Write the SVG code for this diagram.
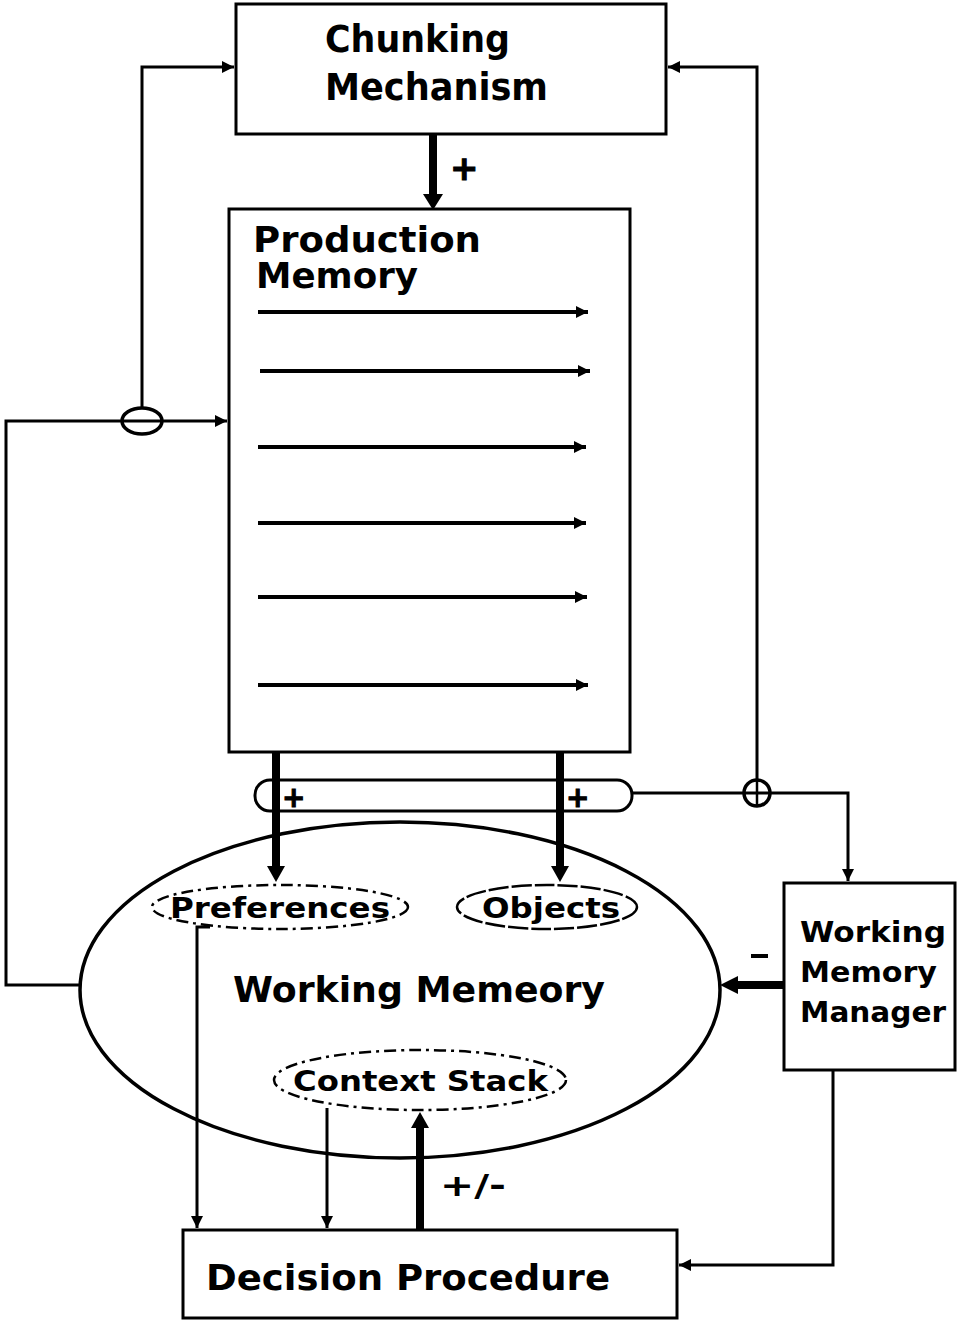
<svg xmlns="http://www.w3.org/2000/svg" width="958" height="1322" viewBox="0 0 958 1322">
<style>
.box{fill:#fff;stroke:#000;stroke-width:3}
.ln{fill:none;stroke:#000;stroke-width:3}
.thick{fill:none;stroke:#000;stroke-width:8}
.t{font-family:"DejaVu Sans","Liberation Sans",sans-serif;font-weight:bold;fill:#000}
.dash{fill:#fff;stroke:#000;stroke-width:2.5;stroke-dasharray:12 5 3 5}
</style>
<defs>
<marker id="as" viewBox="0 0 10 10" refX="10" refY="5" markerWidth="12" markerHeight="12" orient="auto" markerUnits="userSpaceOnUse"><path d="M0,0 L10,5 L0,10 z" fill="#000"/></marker>
</defs>
<rect width="958" height="1322" fill="#fff"/>

<g id="working-memory">
<ellipse cx="400" cy="990" rx="320" ry="168" fill="#fff" stroke="#000" stroke-width="3.5"/>
<text class="t" x="233" y="1002" font-size="36" textLength="372" lengthAdjust="spacingAndGlyphs">Working Memeory</text>
</g>

<g id="connectors">
<line class="thick" x1="433" y1="134" x2="433" y2="196"/>
<path d="M423,194 L443,194 L433,210 z"/>
<text class="t" x="450" y="180" font-size="34" stroke="#000" stroke-width="1">+</text>
<polyline class="ln" points="80,985 6,985 6,421 227,421" marker-end="url(#as)"/>
<polyline class="ln" points="142,408 142,67 234,67" marker-end="url(#as)"/>
<polyline class="ln" points="757,780 757,67 668,67" marker-end="url(#as)"/>
<polyline class="ln" points="632,793 848,793 848,881" marker-end="url(#as)"/>
<line class="thick" x1="276" y1="752" x2="276" y2="868"/>
<path d="M267,866 L285,866 L276,882 z"/>
<line class="thick" x1="560" y1="752" x2="560" y2="868"/>
<path d="M551,866 L569,866 L560,882 z"/>
<line class="thick" x1="784" y1="985" x2="735" y2="985"/>
<path d="M738,976 L738,994 L720,985 z"/>
<rect x="751" y="954" width="17" height="4" fill="#000"/>
<polyline class="ln" points="833,1070 833,1265 679,1265" marker-end="url(#as)"/>
<polyline class="ln" points="210,927 197,927 197,1228" marker-end="url(#as)"/>
<line class="ln" x1="327" y1="1108" x2="327" y2="1228" marker-end="url(#as)"/>
<line class="thick" x1="420" y1="1230" x2="420" y2="1126"/>
<path d="M411,1128 L429,1128 L420,1112 z"/>
<text class="t" x="440" y="1196" font-size="30" textLength="66" lengthAdjust="spacingAndGlyphs">+/-</text>
</g>

<g id="chunking-mechanism">
<rect class="box" x="236" y="4" width="430" height="130"/>
<text class="t" x="325" y="52" font-size="37" textLength="185" lengthAdjust="spacingAndGlyphs">Chunking</text>
<text class="t" x="325" y="100" font-size="37" textLength="223" lengthAdjust="spacingAndGlyphs">Mechanism</text>
</g>

<g id="production-memory">
<rect class="box" x="229" y="209" width="401" height="543"/>
<text class="t" x="253" y="252" font-size="35" textLength="228" lengthAdjust="spacingAndGlyphs">Production</text>
<text class="t" x="256" y="288" font-size="35" textLength="162" lengthAdjust="spacingAndGlyphs">Memory</text>
<g stroke="#000" stroke-width="4">
<line x1="258" y1="312" x2="588" y2="312" marker-end="url(#as)"/>
<line x1="260" y1="371" x2="590" y2="371" marker-end="url(#as)"/>
<line x1="258" y1="447" x2="586" y2="447" marker-end="url(#as)"/>
<line x1="258" y1="523" x2="586" y2="523" marker-end="url(#as)"/>
<line x1="258" y1="597" x2="587" y2="597" marker-end="url(#as)"/>
<line x1="258" y1="685" x2="588" y2="685" marker-end="url(#as)"/>
</g>
</g>

<g id="junction-left">
<ellipse cx="142" cy="421" rx="20" ry="13" fill="none" stroke="#000" stroke-width="3.5"/>
</g>
<g id="junction-right">
<circle cx="757" cy="793" r="13" fill="none" stroke="#000" stroke-width="3.5"/>
<line x1="757" y1="780" x2="757" y2="806" stroke="#000" stroke-width="2.5"/>
</g>

<g id="capsule">
<rect x="255" y="780" width="377" height="31" rx="15" ry="15" fill="none" stroke="#000" stroke-width="3"/>
<line class="thick" x1="276" y1="752" x2="276" y2="820"/>
<line class="thick" x1="560" y1="752" x2="560" y2="820"/>
<text class="t" x="282" y="807" font-size="28" stroke="#000" stroke-width="1">+</text>
<text class="t" x="566" y="807" font-size="28" stroke="#000" stroke-width="1">+</text>
</g>

<g id="preferences">
<ellipse class="dash" cx="280" cy="907" rx="128" ry="22"/>
<text class="t" x="170" y="918" font-size="29" textLength="220" lengthAdjust="spacingAndGlyphs">Preferences</text>
</g>
<g id="objects">
<ellipse cx="547" cy="907" rx="90" ry="22" fill="#fff" stroke="#000" stroke-width="2.5" stroke-dasharray="20 3"/>
<text class="t" x="482" y="918" font-size="29" textLength="138" lengthAdjust="spacingAndGlyphs">Objects</text>
</g>
<g id="context-stack">
<ellipse class="dash" cx="420" cy="1080" rx="146" ry="30"/>
<text class="t" x="293" y="1091" font-size="29" textLength="255" lengthAdjust="spacingAndGlyphs">Context Stack</text>
</g>

<g id="working-memory-manager">
<rect class="box" x="784" y="883" width="171" height="187"/>
<text class="t" x="800" y="942" font-size="29" textLength="146" lengthAdjust="spacingAndGlyphs">Working</text>
<text class="t" x="800" y="982" font-size="29" textLength="137" lengthAdjust="spacingAndGlyphs">Memory</text>
<text class="t" x="800" y="1022" font-size="29" textLength="146" lengthAdjust="spacingAndGlyphs">Manager</text>
</g>

<g id="decision-procedure">
<rect class="box" x="183" y="1230" width="494" height="88"/>
<text class="t" x="206" y="1290" font-size="36" textLength="404" lengthAdjust="spacingAndGlyphs">Decision Procedure</text>
</g>
</svg>
